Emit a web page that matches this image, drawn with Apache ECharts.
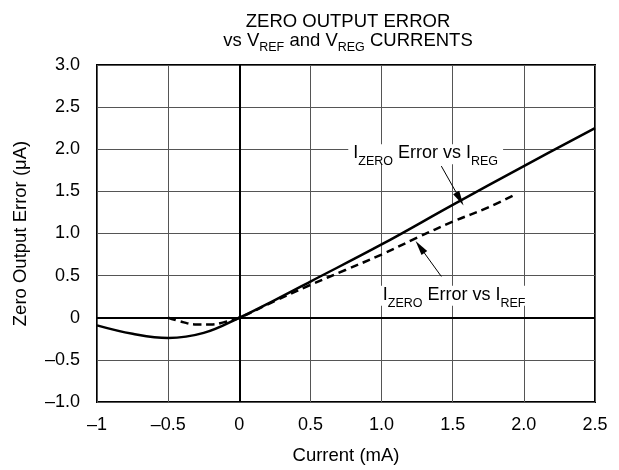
<!DOCTYPE html>
<html>
<head>
<meta charset="utf-8">
<script src="https://cdn.jsdelivr.net/npm/echarts@6/dist/echarts.min.js"></script>
<style>
  html, body { margin: 0; padding: 0; background: #fff; }
  #chart { width: 619px; height: 470px; }
</style>
</head>
<body>
<div id="chart"></div>
<script>
// I_ZERO error vs I_REG (solid)
const regX = [-1, -0.75, -0.5, -0.25, 0, 0.25, 0.5, 1.0, 1.5, 2.0, 2.5]
const regY = [-0.09, -0.19, -0.24, -0.18, 0, 0.21, 0.43, 0.87, 1.34, 1.80, 2.25]
// I_ZERO error vs I_REF (dashed)
const refX = [-0.5, -0.4, -0.3, -0.2, -0.1, 0, 0.25, 0.5, 0.75, 1.0, 1.25, 1.5, 1.75, 1.95]
const refY = [0, -0.05, -0.08, -0.08, -0.05, 0, 0.2, 0.39, 0.57, 0.75, 0.95, 1.14, 1.31, 1.47]

const xTicks = [-1, -0.5, 0, 0.5, 1.0, 1.5, 2.0, 2.5]
const xTickLabels = ['\u20131', '\u20130.5', '0', '0.5', '1.0', '1.5', '2.0', '2.5']
const yTicks = [-1, -0.5, 0, 0.5, 1, 1.5, 2, 2.5, 3]
const yTickLabels = ['\u20131.0', '\u20130.5', '0', '0.5', '1.0', '1.5', '2.0', '2.5', '3.0']

const FONT = 'Liberation Sans, Arial, sans-serif'

function pickLabel(ticks, labels, v){
    const i = ticks.findIndex(t => Math.abs(t - v) < 1e-6)
    return i >= 0 ? labels[i] : ''
}

// normal text + lowered subscript
function richText(size, lh){
    return {
        a : { fontSize : size, fontFamily : FONT, fontWeight : 'normal', color : '#000', lineHeight : lh, verticalAlign : 'top' },
        sub : { fontSize : 12.5, fontFamily : FONT, fontWeight : 'normal', color : '#000', lineHeight : 12, verticalAlign : 'top', padding : [lh / 2 + 1, 0, 0, 0] }
    }
}

const chart = echarts.init(document.getElementById('chart'))
const option = {
    animation : false,
    title : {
        text : '{a|ZERO OUTPUT ERROR}\n{a|vs V}{sub|REF}{a| and V}{sub|REG}{a| CURRENTS}',
        left : 343,
        top : 7,
        textAlign : 'center',
        textStyle : {
            rich : richText(18.5, 19),
            fontWeight : 'normal',
            lineHeight : 19
        }
    },
    grid : {
        left : 97,
        right : 24,
        top : 65,
        bottom : 65,
        show : true,
        borderColor : '#000',
        borderWidth : 2,
        containLabel : false
    },
    xAxis : {
        type : 'value',
        min : -1,
        max : 2.5,
        interval : 0.5,
        name : 'Current (mA)',
        nameLocation : 'middle',
        nameGap : 44,
        nameTextStyle : { fontSize : 18.5, fontFamily : FONT, color : '#000' },
        axisLine : { show : false },
        axisTick : { show : false },
        axisLabel : {
            margin : 14,
            fontSize : 18,
            fontFamily : FONT,
            color : '#000',
            formatter : v => pickLabel(xTicks, xTickLabels, v)
        },
        splitLine : { show : true, lineStyle : { color : '#555', width : 1 } }
    },
    yAxis : {
        type : 'value',
        min : -1,
        max : 3,
        interval : 0.5,
        name : 'Zero Output Error (\u03bcA)',
        nameLocation : 'middle',
        nameGap : 67,
        nameTextStyle : { fontSize : 18.5, fontFamily : FONT, color : '#000' },
        axisLine : { show : false },
        axisTick : { show : false },
        axisLabel : {
            margin : 17,
            fontSize : 18,
            fontFamily : FONT,
            color : '#000',
            formatter : v => pickLabel(yTicks, yTickLabels, v)
        },
        splitLine : { show : true, lineStyle : { color : '#555', width : 1 } }
    },
    series : [
        {
            // heavy zero axes
            type : 'line',
            data : [],
            silent : true,
            markLine : {
                silent : true,
                symbol : ['none', 'none'],
                label : { show : false },
                lineStyle : { color : '#000', width : 2, type : 'solid' },
                data : [ { xAxis : 0 }, { yAxis : 0 } ]
            }
        },
        {
            name : 'IREF',
            type : 'line',
            data : refX.map((x, i) => [x, refY[i]]),
            smooth : 0.4,
            showSymbol : false,
            lineStyle : { color : '#000', width : 2.5, type : [8, 5] },
            z : 3
        },
        {
            name : 'IREG',
            type : 'line',
            data : regX.map((x, i) => [x, regY[i]]),
            smooth : 0.4,
            showSymbol : false,
            lineStyle : { color : '#000', width : 2.5 },
            z : 4,
            markLine : {
                silent : true,
                symbol : ['none', 'triangle'],
                symbolSize : [7, 15],
                label : { show : false },
                itemStyle : { color : '#000' },
                lineStyle : { color : '#000', width : 1, type : 'solid' },
                data : [
                    [ { coord : [1.42, 1.80] }, { coord : [1.55, 1.41] } ],
                    [ { coord : [1.42, 0.49] }, { coord : [1.27, 0.84] } ]
                ]
            },
            markPoint : {
                silent : true,
                symbol : 'rect',
                symbolSize : 0,
                data : [
                    {
                        coord : [1.31, 1.94],
                        label : {
                            show : true,
                            position : 'inside',
                            backgroundColor : '#fff',
                            padding : [0, 5, 0, 5],
                            formatter : '{a|I}{sub|ZERO}{a| Error vs I}{sub|REG}',
                            rich : richText(18, 20)
                        }
                    },
                    {
                        coord : [1.51, 0.26],
                        label : {
                            show : true,
                            position : 'inside',
                            backgroundColor : '#fff',
                            padding : [0, 5, 0, 5],
                            formatter : '{a|I}{sub|ZERO}{a| Error vs I}{sub|REF}',
                            rich : richText(18, 20)
                        }
                    }
                ]
            }
        }
    ]
}
chart.setOption(option)
</script>
</body>
</html>
